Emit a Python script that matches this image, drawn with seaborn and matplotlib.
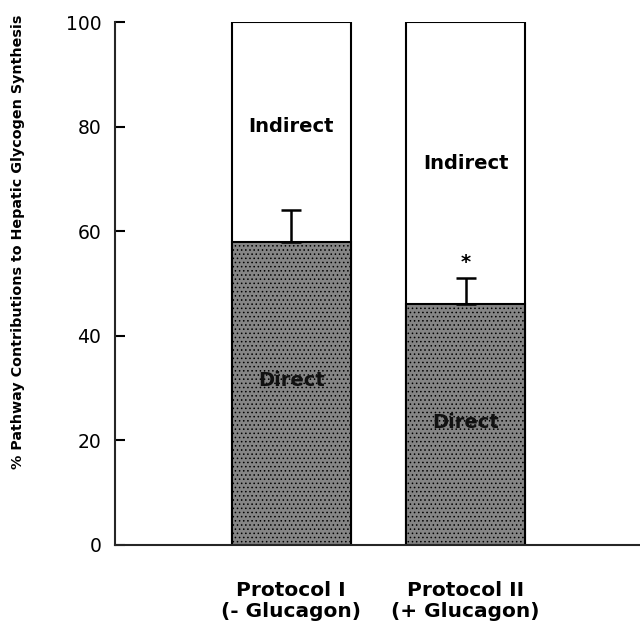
import matplotlib
matplotlib.use("Agg")
import matplotlib.pyplot as plt
import seaborn as sns
import pandas as pd

sns.set_style("ticks")
plt.rcParams['font.family'] = ['DejaVu Sans']
plt.rcParams['hatch.linewidth'] = 0.6
plt.rcParams['text.color'] = 'black'
plt.rcParams['xtick.color'] = 'black'
plt.rcParams['ytick.color'] = 'black'

# values
protocols = ["Protocol I\n(- Glucagon)", "Protocol II\n(+ Glucagon)"]
direct = [58, 46]
direct_err = [6, 5]
total = [100, 100]
indirect_label_y = [80, 73]
direct_label_y = [31.5, 23.5]
star_y = [52.9]

df = pd.DataFrame({"protocol": protocols, "direct": direct, "total": total})

fig = plt.figure(figsize=(6.4, 6.31), dpi=100)
ax = fig.add_axes([0.18, 0.1363, 0.82, 0.8288])

# indirect (white) part: full bar, then direct part on top of it
sns.barplot(data=df, x="protocol", y="total", color="white", edgecolor="black",
            linewidth=1.5, width=0.68, ax=ax, saturation=1)
sns.barplot(data=df, x="protocol", y="direct", color="#858585", edgecolor="black",
            linewidth=1.5, width=0.68, ax=ax, saturation=1)
for p in ax.patches[len(protocols):]:
    p.set_hatch("....")

ax.errorbar(range(len(protocols)), direct, yerr=[[0] * len(direct), direct_err],
            fmt="none", ecolor="black", elinewidth=1.8, capsize=7, capthick=1.8)

for i in range(len(protocols)):
    ax.text(i, indirect_label_y[i], "Indirect", ha="center", va="center",
            fontsize=14, fontweight="bold")
    ax.text(i, direct_label_y[i], "Direct", ha="center", va="center",
            fontsize=14, fontweight="bold", color="#111111")
ax.text(1, star_y[0], "*", ha="center", va="baseline", fontsize=14, fontweight="bold")

ax.set_ylim(0, 100)
ax.set_xlim(-1.01, 2.0)
ax.set_yticks([0, 20, 40, 60, 80, 100])
ax.tick_params(axis="y", direction="in", length=7, width=1.5, pad=10, labelsize=13.5)
ax.tick_params(axis="x", length=0, pad=26, labelsize=14.5)
for lab in ax.get_xticklabels():
    lab.set_fontweight("bold")
    lab.set_linespacing(1.1)
ax.set_xlabel("")
ax.set_ylabel("")
fig.text(18 / 640, 1 - 242 / 631,
         "% Pathway Contributions to Hepatic Glycogen Synthesis",
         rotation=90, ha="center", va="center", fontsize=10.3, fontweight="bold")
sns.despine(ax=ax)
ax.spines["left"].set_linewidth(1.5)
ax.spines["bottom"].set_linewidth(1.5)

fig.savefig("out.png", dpi=100)
